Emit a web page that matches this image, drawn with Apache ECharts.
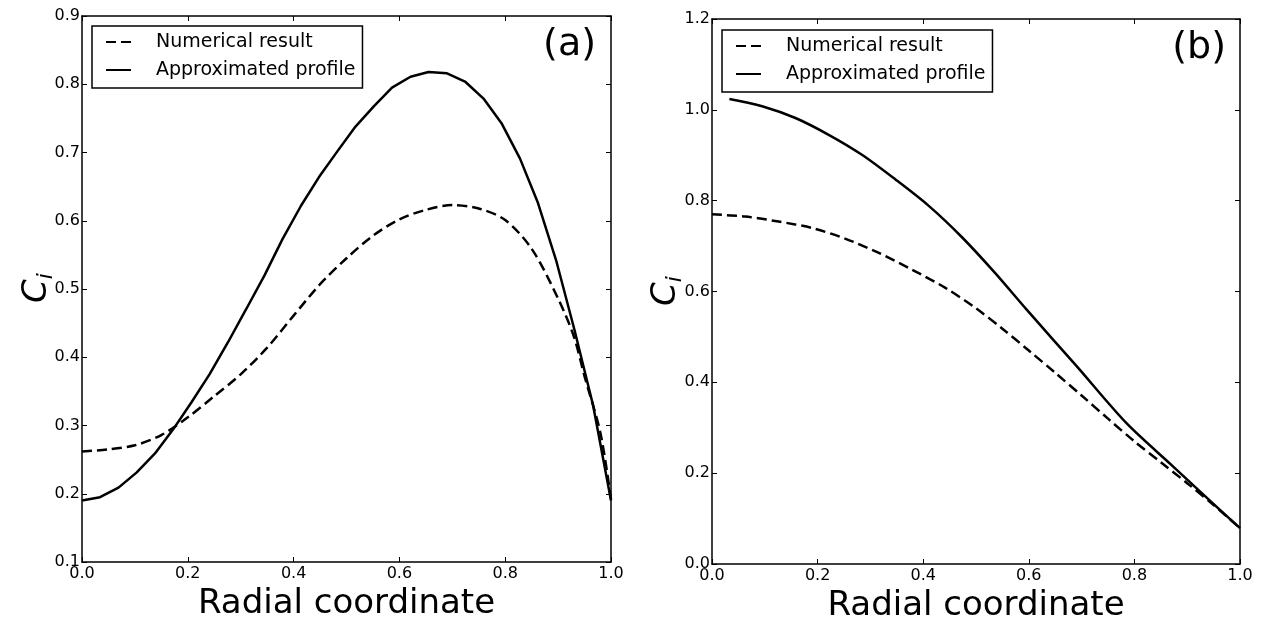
<!DOCTYPE html>
<html>
<head>
<meta charset="utf-8">
<script src="https://cdn.jsdelivr.net/npm/echarts@6/dist/echarts.min.js"></script>
<style>
html,body{margin:0;padding:0;background:#fff;}
#chart{width:1263px;height:620px;}
</style>
</head>
<body>
<div id="chart"></div>
<script>
// ---- data ----
var seriesNames = ['Numerical result', 'Approximated profile'];
var panelLabels = ['(a)', '(b)'];

// Panel (a)
var aNumX = [0.00, 0.05, 0.10, 0.15, 0.20, 0.25, 0.30, 0.35, 0.40, 0.45, 0.50, 0.55, 0.60, 0.65, 0.70, 0.75, 0.80, 0.85, 0.90, 0.93, 0.95, 0.98, 1.00];
var aNumY = [0.262, 0.265, 0.271, 0.286, 0.312, 0.343, 0.375, 0.414, 0.461, 0.507, 0.545, 0.578, 0.602, 0.616, 0.623, 0.618, 0.601, 0.559, 0.486, 0.430, 0.372, 0.289, 0.192];
var aAppX = [0.000, 0.034, 0.069, 0.103, 0.138, 0.172, 0.207, 0.241, 0.276, 0.310, 0.345, 0.379, 0.414, 0.448, 0.483, 0.517, 0.552, 0.586, 0.621, 0.655, 0.690, 0.724, 0.759, 0.793, 0.828, 0.862, 0.897, 0.931, 0.966, 1.000];
var aAppY = [0.190, 0.195, 0.209, 0.231, 0.259, 0.294, 0.334, 0.375, 0.422, 0.470, 0.520, 0.573, 0.622, 0.664, 0.702, 0.738, 0.768, 0.795, 0.811, 0.818, 0.816, 0.804, 0.779, 0.743, 0.691, 0.626, 0.540, 0.440, 0.330, 0.190];

// Panel (b)
var bNumX = [0.00, 0.063, 0.126, 0.189, 0.253, 0.316, 0.379, 0.442, 0.50, 0.55, 0.60, 0.65, 0.70, 0.75, 0.80, 0.85, 0.90, 0.95, 1.00];
var bNumY = [0.770, 0.765, 0.754, 0.740, 0.716, 0.685, 0.648, 0.608, 0.563, 0.518, 0.470, 0.421, 0.371, 0.320, 0.270, 0.224, 0.178, 0.130, 0.079];
var bAppX = [0.033, 0.095, 0.158, 0.221, 0.284, 0.347, 0.410, 0.473, 0.536, 0.596, 0.691, 0.785, 0.874, 0.962, 1.000];
var bAppY = [1.024, 1.008, 0.982, 0.945, 0.901, 0.847, 0.789, 0.720, 0.641, 0.560, 0.435, 0.310, 0.214, 0.119, 0.079];

// axis ranges / ticks
var xMin = 0, xMax = 1, xStep = 0.2;
var aYMin = 0.1, aYMax = 0.9, aYStep = 0.1;
var bYMin = 0.0, bYMax = 1.2, bYStep = 0.2;
var xTitle = 'Radial coordinate';
var yTitleRich = '{c|C}{i|i}';

function pairs(xs, ys) { return xs.map(function (x, i) { return [x, ys[i]]; }); }

var FONT = 'DejaVu Sans';
var fmt = function (v) { return (+v).toFixed(1); };

function xAxisCfg(grid, pos, showLabels) {
  return {
    type: 'value', gridIndex: grid, position: pos, min: xMin, max: xMax, interval: xStep,
    name: showLabels ? xTitle : '', nameLocation: 'middle', nameGap: 19,
    nameTextStyle: { fontFamily: FONT, fontSize: 34, color: '#000' },
    axisLine: { onZero: false, lineStyle: { color: '#000', width: 1.5 } },
    axisTick: { show: true, inside: true, length: 5, lineStyle: { color: '#000', width: 1 } },
    axisLabel: { show: showLabels, formatter: fmt, fontFamily: FONT, fontSize: 16, color: '#000', margin: 4 },
    splitLine: { show: false }
  };
}
function yAxisCfg(grid, pos, mn, mx, step, showLabels) {
  return {
    type: 'value', gridIndex: grid, position: pos, min: mn, max: mx, interval: step,
    axisLine: { onZero: false, lineStyle: { color: '#000', width: 1.5 } },
    axisTick: { show: true, inside: true, length: 5, lineStyle: { color: '#000', width: 1 } },
    axisLabel: { show: showLabels, formatter: fmt, fontFamily: FONT, fontSize: 16, color: '#000', margin: 2 },
    splitLine: { show: false }
  };
}
function legendCfg(left, top) {
  return {
    left: left, top: top, orient: 'vertical',
    data: seriesNames,
    itemWidth: 25, itemHeight: 14, itemGap: 8,
    padding: [6, 7, 8, 13],
    borderColor: '#000', borderWidth: 1.5, backgroundColor: '#fff',
    selectedMode: false,
    itemStyle: { color: 'rgba(0,0,0,0)', borderColor: 'rgba(0,0,0,0)', borderWidth: 0 },
    textStyle: { fontFamily: FONT, fontSize: 19, color: '#000', lineHeight: 20, padding: [0, 0, 0, 20] }
  };
}
function yTitle(x, y) {
  return {
    type: 'text', x: x, y: y, rotation: Math.PI / 2,
    style: {
      text: yTitleRich, align: 'center', verticalAlign: 'middle', fill: '#000',
      rich: {
        c: { fontFamily: FONT, fontStyle: 'italic', fontSize: 34, lineHeight: 40, verticalAlign: 'middle', fill: '#000' },
        i: { fontFamily: FONT, fontStyle: 'italic', fontSize: 22, lineHeight: 14, verticalAlign: 'bottom', fill: '#000' }
      }
    }
  };
}
var dashed = { color: '#000', width: 2.5, type: [10, 5] };
var solid = { color: '#000', width: 2.5, type: 'solid' };

var option = {
  animation: false,
  backgroundColor: '#fff',
  textStyle: { fontFamily: FONT },
  grid: [
    { left: 82, top: 16, width: 529, height: 546, containLabel: false, outerBoundsMode: 'none' },
    { left: 712, top: 19, width: 528, height: 545, containLabel: false, outerBoundsMode: 'none' }
  ],
  title: [
    { text: panelLabels[0], right: 662, top: 21, textStyle: { fontFamily: FONT, fontSize: 38, fontWeight: 'normal', color: '#000' } },
    { text: panelLabels[1], right: 32, top: 24, textStyle: { fontFamily: FONT, fontSize: 38, fontWeight: 'normal', color: '#000' } }
  ],
  graphic: [yTitle(37, 288), yTitle(666, 291)],
  legend: [legendCfg(92, 26), legendCfg(722, 30)],
  xAxis: [
    xAxisCfg(0, 'bottom', true), xAxisCfg(0, 'top', false),
    xAxisCfg(1, 'bottom', true), xAxisCfg(1, 'top', false)
  ],
  yAxis: [
    yAxisCfg(0, 'left', aYMin, aYMax, aYStep, true), yAxisCfg(0, 'right', aYMin, aYMax, aYStep, false),
    yAxisCfg(1, 'left', bYMin, bYMax, bYStep, true), yAxisCfg(1, 'right', bYMin, bYMax, bYStep, false)
  ],
  series: [
    { name: seriesNames[0], type: 'line', xAxisIndex: 0, yAxisIndex: 0, data: pairs(aNumX, aNumY), symbol: 'none', smooth: 0.3, lineStyle: dashed, itemStyle: { color: '#000' } },
    { name: seriesNames[1], type: 'line', xAxisIndex: 0, yAxisIndex: 0, data: pairs(aAppX, aAppY), symbol: 'none', lineStyle: solid, itemStyle: { color: '#000' } },
    { name: seriesNames[0], type: 'line', xAxisIndex: 2, yAxisIndex: 2, data: pairs(bNumX, bNumY), symbol: 'none', smooth: 0.3, lineStyle: dashed, itemStyle: { color: '#000' } },
    { name: seriesNames[1], type: 'line', xAxisIndex: 2, yAxisIndex: 2, data: pairs(bAppX, bAppY), symbol: 'none', smooth: 0.3, lineStyle: solid, itemStyle: { color: '#000' } }
  ]
};
var chart = echarts.init(document.getElementById('chart'), null, { renderer: 'canvas' });
chart.setOption(option);
</script>
</body>
</html>
